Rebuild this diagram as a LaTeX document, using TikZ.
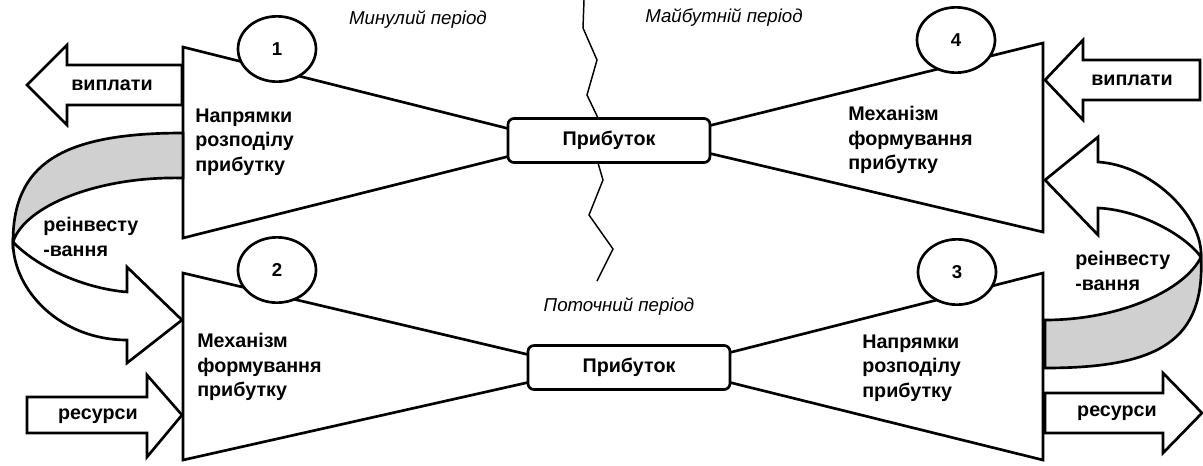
\documentclass[tikz,border=0pt]{standalone}
\usepackage{fontspec}
\setmainfont{Liberation Sans}
\usetikzlibrary{shapes.geometric}

\tikzset{
  blk/.style={draw,line width=2pt,fill=white,line join=miter},
  band/.style={draw,line width=2pt,fill=gray!37},
  txt/.style={font=\bfseries\fontsize{14.8}{18.4}\selectfont,align=left,anchor=west,inner sep=0pt},
  per/.style={font=\itshape\fontsize{14}{17}\selectfont,inner sep=0pt},
  num/.style={ellipse,draw,line width=2pt,fill=white,minimum width=58.5pt,minimum height=49pt,inner sep=0pt,font=\bfseries\fontsize{14}{16}\selectfont},
  profit/.style={draw,line width=2pt,fill=white,rounded corners=4.5pt,minimum width=151.5pt,minimum height=33pt,inner sep=0pt,font=\bfseries\fontsize{14.8}{17}\selectfont}
}

\begin{document}
\begin{tikzpicture}[x=0.75pt,y=-0.75pt]
    \useasboundingbox (0,0) rectangle (1203,465);

    % border between the periods
    \draw[line width=1.1pt] (584,0) -- (583,28) -- (597,60) -- (587,95) -- (598,118) -- (598,163) -- (603,180) -- (589,215) -- (613,249) -- (597,281);

    % the four blocks
    \draw[blk] (183,47) -- (510,129) -- (510,156) -- (183,238) -- cycle;
    \draw[blk] (1043,43) -- (708,126) -- (708,153) -- (1043,232) -- cycle;
    \draw[blk] (183,273) -- (530,355) -- (530,382) -- (183,460) -- cycle;
    \draw[blk] (1043,273) -- (728,353) -- (728,382) -- (1043,460) -- cycle;

    % reinvestment, left
    \draw[band] (183,133) .. controls (60,133) and (13,165) .. (13,242) .. controls (25,205) and (100,176) .. (183,178) -- cycle;
    \draw[blk] (13,242) .. controls (13,290) and (60,340) .. (127,340) -- (127,363) -- (182,320) -- (127,267) -- (127,292) .. controls (80,288) and (35,265) .. (13,242) -- cycle;

    % reinvestment, right
    \draw[blk] (1201,257) .. controls (1203,215) and (1150,165) .. (1098,162) -- (1098,137) -- (1045,180) -- (1098,235) -- (1098,208) .. controls (1140,210) and (1185,235) .. (1201,257) -- cycle;
    \draw[band] (1201,257) .. controls (1185,290) and (1120,320) .. (1045,320) -- (1045,368) .. controls (1160,368) and (1205,340) .. (1201,257) -- cycle;

    % payments and resources
    \draw[blk] (182,65) -- (67,65) -- (67,45) -- (27,85) -- (67,125) -- (67,105) -- (182,105) -- cycle;
    \draw[blk] (1200,60) -- (1083,60) -- (1083,40) -- (1045,80) -- (1083,120) -- (1083,100) -- (1200,100) -- cycle;
    \draw[blk] (27,397) -- (147,397) -- (147,375) -- (182,415) -- (147,457) -- (147,433) -- (27,433) -- cycle;
    \draw[blk] (1045,393) -- (1163,393) -- (1163,373) -- (1202,413) -- (1163,453) -- (1163,433) -- (1045,433) -- cycle;

    \node[num] (c1) at (277,49) {1};
    \node[num] (c2) at (277,270) {2};
    \node[num] (c3) at (957,272) {3};
    \node[num] (c4) at (956,40) {4};

    \node[profit] (pr1) at (609,140.5) {Прибуток};
    \node[profit] (pr2) at (629,367.5) {Прибуток};

    \node[per] (past) at (418,20) {Минулий період};
    \node[per] (future) at (724,18) {Майбутній період};
    \node[per] (now) at (619,307) {Поточний період};

    \node[txt] (t1) at (195,142) {Напрямки\\розподілу\\прибутку};
    \node[txt] (t2) at (197,367) {Механізм\\формування\\прибутку};
    \node[txt] (t3) at (862,368) {Напрямки\\розподілу\\прибутку};
    \node[txt] (t4) at (848,140) {Механізм\\формування\\прибутку};

    \node[txt,anchor=center] (pay1) at (112,85) {виплати};
    \node[txt,anchor=center] (pay4) at (1132,80) {виплати};
    \node[txt,anchor=center] (res2) at (98,416) {ресурси};
    \node[txt,anchor=center] (res3) at (1117,413) {ресурси};

    \node[txt] (re1) at (43,237) {реінвесту\\-вання};
    \node[txt] (re3) at (1075,271) {реінвесту\\-вання};
\end{tikzpicture}
\end{document}
